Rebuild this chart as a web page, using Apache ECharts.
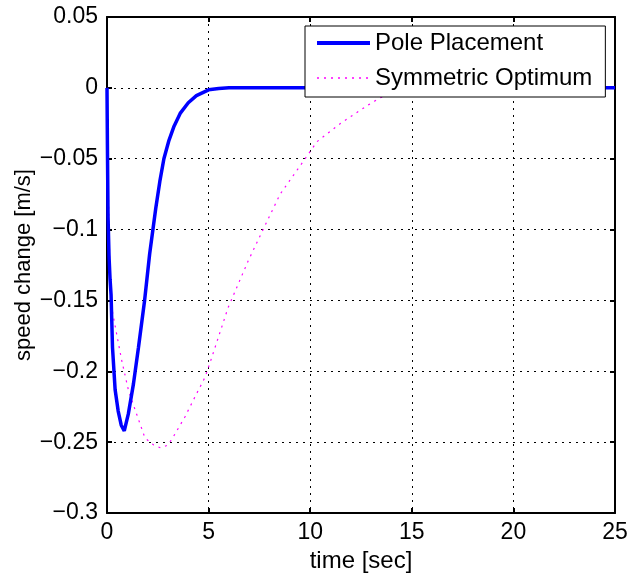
<!DOCTYPE html>
<html>
<head>
<meta charset="utf-8">
<script src="https://cdn.jsdelivr.net/npm/echarts@6/dist/echarts.min.js"></script>
<style>
  html, body { margin: 0; padding: 0; background: #fff; }
  #chart { width: 640px; height: 578px; }
</style>
</head>
<body>
<div id="chart"></div>
<script>
// values
const poleTime = [0, 0.02, 0.05, 0.1, 0.15, 0.2, 0.27, 0.4, 0.55, 0.7, 0.85, 1.05, 1.3, 1.55, 1.85, 2.1, 2.4, 2.6, 2.8, 3.05, 3.3, 3.6, 4.0, 4.4, 5.0, 5.5, 6.0, 25];
const poleSpeed = [0, -0.04, -0.09, -0.119, -0.135, -0.146, -0.183, -0.213, -0.228, -0.238, -0.242, -0.23, -0.209, -0.183, -0.15, -0.117, -0.085, -0.066, -0.05, -0.037, -0.027, -0.018, -0.0105, -0.0055, -0.0014, -0.0004, 0, 0];

const symTime = [0, 0.05, 0.1, 0.15, 0.23, 0.48, 0.72, 1.05, 1.38, 1.87, 2.3, 2.65, 3.0, 3.27, 3.84, 4.33, 4.83, 5.16, 5.96, 6.95, 7.78, 8.52, 9.75, 10.33, 11.5, 12.86, 13.45, 14.2, 15, 25];
const symSpeed = [0, -0.06, -0.1, -0.132, -0.155, -0.174, -0.192, -0.213, -0.227, -0.247, -0.252, -0.254, -0.252, -0.246, -0.232, -0.218, -0.204, -0.19, -0.155, -0.122, -0.097, -0.075, -0.05, -0.038, -0.025, -0.012, -0.007, -0.003, 0, 0];

const seriesNames = ['Pole Placement', 'Symmetric Optimum'];
const xTicks = [0, 25, 5];        // min, max, step
const yTicks = [-0.3, 0.05, 0.05];

const font = 'Liberation Sans, Arial, sans-serif';

function pairs(t, v) {
  return t.map((x, i) => [x, v[i]]);
}

function yLabel(v) {
  let r = Math.round(v * 100) / 100;
  if (r === 0) return '0';
  return r < 0 ? '\u2212' + String(-r) : String(r);
}

const chart = echarts.init(document.getElementById('chart'));

const boxLine = { show: true, onZero: false, lineStyle: { color: '#000', width: 2 } };
const inTicks = { show: true, inside: true, length: 5, lineStyle: { color: '#000', width: 2 } };
const gridDots = { show: true, lineStyle: { color: '#000', width: 1, type: [2, 5] } };

chart.setOption({
  animation: false,
  grid: { left: 107, right: 25, top: 17, bottom: 61, containLabel: false },
  legend: {
    data: [
      { name: seriesNames[0], lineStyle: { width: 4 } },
      { name: seriesNames[1], lineStyle: { width: 1.5 } }
    ],
    orient: 'vertical',
    left: 305,
    top: 26,
    padding: [5, 13, 7, 10],
    itemGap: 11,
    itemWidth: 53,
    itemHeight: 14,
    borderColor: '#000',
    borderWidth: 1,
    backgroundColor: '#fff',
    itemStyle: { opacity: 0 },
    textStyle: { fontFamily: font, fontSize: 24, color: '#000', lineHeight: 24 }
  },
  xAxis: [{
    type: 'value',
    min: xTicks[0], max: xTicks[1], interval: xTicks[2],
    name: 'time [sec]',
    nameLocation: 'middle',
    nameGap: 34,
    nameTextStyle: { fontFamily: font, fontSize: 24, color: '#000' },
    axisLine: boxLine,
    axisTick: inTicks,
    axisLabel: { margin: 8, fontFamily: font, fontSize: 23, color: '#000' },
    splitLine: gridDots
  }, {
    type: 'value', position: 'top',
    min: xTicks[0], max: xTicks[1], interval: xTicks[2],
    axisLine: boxLine, axisTick: inTicks,
    axisLabel: { show: false }, splitLine: { show: false }
  }],
  yAxis: [{
    type: 'value',
    min: yTicks[0], max: yTicks[1], interval: yTicks[2],
    name: 'speed change [m/s]',
    nameLocation: 'middle',
    nameRotate: 90,
    nameGap: 72,
    nameMoveOverlap: false,
    nameTextStyle: { fontFamily: font, fontSize: 22, color: '#000' },
    axisLine: boxLine,
    axisTick: inTicks,
    axisLabel: { margin: 9, fontFamily: font, fontSize: 23, color: '#000', formatter: yLabel },
    splitLine: gridDots
  }, {
    type: 'value', position: 'right',
    min: yTicks[0], max: yTicks[1], interval: yTicks[2],
    axisLine: boxLine, axisTick: inTicks,
    axisLabel: { show: false }, splitLine: { show: false }
  }],
  series: [{
    name: seriesNames[0],
    type: 'line',
    symbol: 'none',
    data: pairs(poleTime, poleSpeed),
    lineStyle: { color: '#0000ff', width: 3.5 },
    itemStyle: { color: '#0000ff' },
    z: 3
  }, {
    name: seriesNames[1],
    type: 'line',
    symbol: 'none',
    data: pairs(symTime, symSpeed),
    lineStyle: { color: '#ff00ff', width: 1.2, type: [2, 5] },
    itemStyle: { color: '#ff00ff' },
    z: 2
  }]
});
</script>
</body>
</html>
